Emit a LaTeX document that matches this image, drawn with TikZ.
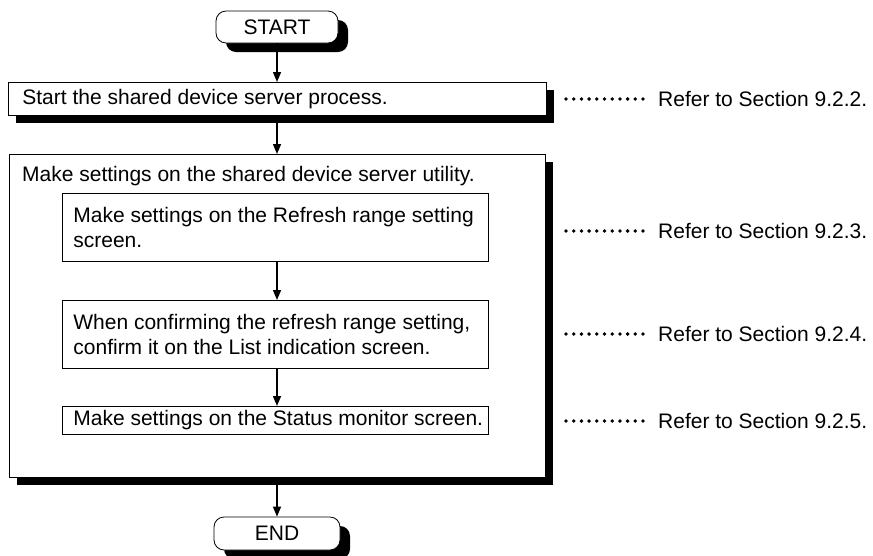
\documentclass[tikz,border=0pt]{standalone}
\usepackage{fontspec}
\setmainfont{Liberation Sans}
\usetikzlibrary{arrows.meta,shadows}
\begin{document}
\begin{tikzpicture}[x=1pt,y=-1pt,
  font=\fontsize{21}{25}\selectfont,
  plainbox/.style={draw=black,line width=0.8pt,fill=white,anchor=north west,
    align=flush left,inner ysep=0pt},
  shadowbox/.style={plainbox,
    drop shadow={shadow xshift=8pt,shadow yshift=-8pt,fill=black,opacity=1}},
  inbox/.style={plainbox,minimum width=426pt,text width=404pt,inner xsep=11pt},
  term/.style={draw=black,line width=0.8pt,fill=white,rounded corners=10pt,
    inner sep=0pt,
    drop shadow={shadow xshift=10pt,shadow yshift=-9pt,fill=black,opacity=1}},
  arr/.style={line width=1.4pt,-{Triangle[length=10pt,width=8pt]}},
  refer/.style={anchor=west,inner sep=0pt},
  leader/.style={line width=3.8pt,line cap=round,dash pattern=on 0pt off 7.7pt}
]
\useasboundingbox (0,0) rectangle (873,555);

% terminals
\node[term,minimum width=122pt,minimum height=32pt] (start) at (277,27) {START};
\node[term,minimum width=126pt,minimum height=33pt] (end) at (277,533.5) {END};

% first process
\node[shadowbox,minimum width=538pt,minimum height=33pt,text width=510pt,inner xsep=14pt]
  (b1) at (8,82) {Start the shared device server process.};

% group box
\node[shadowbox,minimum width=536pt,minimum height=323pt] (grp) at (9,154) {};
\node[anchor=west,inner sep=0pt] (grpt) at (22,176)
  {Make settings on the shared device server utility.};

% inner steps
\node[inbox,minimum height=68pt] (a) at (62,193)
  {Make settings on the Refresh range setting\\screen.};
\node[inbox,minimum height=68pt] (b) at (62,300)
  {When confirming the refresh range setting,\\confirm it on the List indication screen.};
\node[inbox,minimum height=28pt] (c) at (62,406)
  {\mbox{Make settings on the Status monitor screen.}};

% arrows
\draw[arr] (start.south) -- (start.south |- b1.north);
\draw[arr] (b1.south -| start.south) -- (grp.north -| start.south);
\draw[arr] (a.south -| start.south) -- (b.north -| start.south);
\draw[arr] (b.south -| start.south) -- (c.north -| start.south);
\draw[arr] (grp.south -| start.south) -- (end.north);

% references
\node[refer] (r1) at (658,99) {Refer to Section 9.2.2.};
\node[refer] (r2) at (658,231) {Refer to Section 9.2.3.};
\node[refer] (r3) at (658,334) {Refer to Section 9.2.4.};
\node[refer] (r4) at (658,421) {Refer to Section 9.2.5.};
\foreach \r in {r1,r2,r3,r4}
  \draw[leader] ([xshift=-92pt]\r.west) -- ([xshift=-14.5pt]\r.west);
\end{tikzpicture}
\end{document}
